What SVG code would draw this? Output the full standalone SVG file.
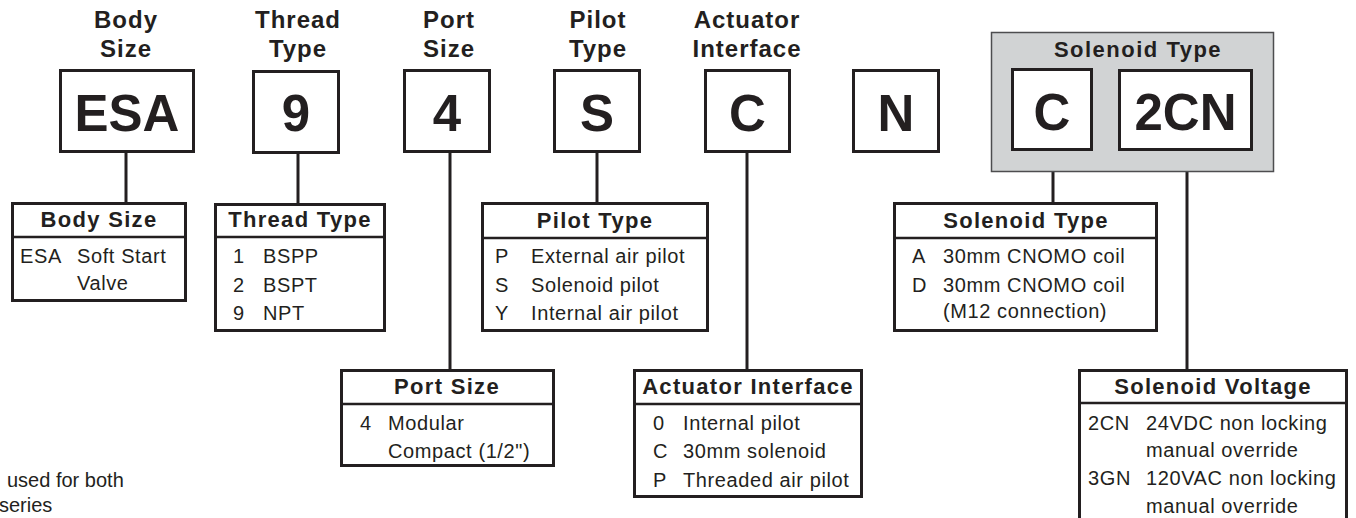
<svg xmlns="http://www.w3.org/2000/svg" width="1356" height="518" viewBox="0 0 1356 518">
<style>
.bg{fill:#ffffff}
.box{fill:#ffffff;stroke:#231f20;stroke-width:3}
.grp{fill:#d1d3d4;stroke:#4d4d4f;stroke-width:1.5}
.div{stroke:#231f20;stroke-width:2.5}
.con{stroke:#231f20;stroke-width:3;fill:none}
text{font-family:"Liberation Sans",Arial,Helvetica,sans-serif;fill:#231f20}
.code{font-size:51px;font-weight:bold;text-anchor:middle}
.ttl{font-size:24px;font-weight:bold;text-anchor:middle;letter-spacing:1px}
.gttl{font-size:22px;font-weight:bold;text-anchor:middle;letter-spacing:1.5px}
.hdr{font-size:22px;font-weight:bold;text-anchor:middle;letter-spacing:1.3px}
.row{font-size:20px;letter-spacing:0.6px}
.note{font-size:20px}
</style>
<rect class="bg" x="0" y="0" width="1356" height="518"/>

<g id="connectors">
<line class="con" x1="126" y1="152" x2="126" y2="203"/>
<line class="con" x1="298" y1="153" x2="298" y2="204"/>
<line class="con" x1="450" y1="151" x2="450" y2="370"/>
<line class="con" x1="597" y1="151" x2="597" y2="203"/>
<line class="con" x1="747" y1="151" x2="747" y2="370"/>
<line class="con" x1="1053" y1="149" x2="1053" y2="203"/>
<line class="con" x1="1187" y1="150" x2="1187" y2="370"/>
</g>

<g id="code-body-size">
<text class="ttl" x="126" y="28">Body</text>
<text class="ttl" x="126" y="57">Size</text>
<rect class="box" x="60.5" y="70.5" width="133" height="81"/>
<text class="code" x="127" y="131">ESA</text>
</g>

<g id="code-thread-type">
<text class="ttl" x="298" y="28">Thread</text>
<text class="ttl" x="298" y="57">Type</text>
<rect class="box" x="253.5" y="71.5" width="85" height="81"/>
<text class="code" x="296" y="131">9</text>
</g>

<g id="code-port-size">
<text class="ttl" x="449" y="28">Port</text>
<text class="ttl" x="449" y="57">Size</text>
<rect class="box" x="404.5" y="70.5" width="85" height="81"/>
<text class="code" x="447" y="131">4</text>
</g>

<g id="code-pilot-type">
<text class="ttl" x="598" y="28">Pilot</text>
<text class="ttl" x="598" y="57">Type</text>
<rect class="box" x="554.5" y="70.5" width="85" height="81"/>
<text class="code" x="597" y="131">S</text>
</g>

<g id="code-actuator-interface">
<text class="ttl" x="747" y="28">Actuator</text>
<text class="ttl" x="747" y="57">Interface</text>
<rect class="box" x="705.5" y="70.5" width="84" height="81"/>
<text class="code" x="747.5" y="131">C</text>
</g>

<g id="code-n">
<rect class="box" x="853.5" y="70.5" width="85" height="81"/>
<text class="code" x="896" y="131">N</text>
</g>

<g id="solenoid-group">
<rect class="grp" x="991.5" y="32.5" width="282" height="139"/>
<text class="gttl" x="1138" y="57">Solenoid Type</text>
</g>

<g id="code-solenoid-type">
<rect class="box" x="1012.5" y="69.5" width="79" height="80"/>
<text class="code" x="1052" y="130">C</text>
</g>

<g id="code-solenoid-voltage">
<rect class="box" x="1119.5" y="70.5" width="132" height="79"/>
<text class="code" x="1185.5" y="130">2CN</text>
</g>

<g id="table-body-size">
<rect class="box" x="12.5" y="203.5" width="173" height="97"/>
<line class="div" x1="12.5" y1="237" x2="185.5" y2="237"/>
<text class="hdr" x="99" y="227">Body Size</text>
<text class="row" x="20" y="263">ESA</text>
<text class="row" x="77" y="263">Soft Start</text>
<text class="row" x="77" y="290">Valve</text>
</g>

<g id="table-thread-type">
<rect class="box" x="215.5" y="204.5" width="169" height="126"/>
<line class="div" x1="215.5" y1="237" x2="384.5" y2="237"/>
<text class="hdr" x="300" y="227">Thread Type</text>
<text class="row" x="233" y="263">1</text>
<text class="row" x="263" y="263">BSPP</text>
<text class="row" x="233" y="292">2</text>
<text class="row" x="263" y="292">BSPT</text>
<text class="row" x="233" y="320">9</text>
<text class="row" x="263" y="320">NPT</text>
</g>

<g id="table-pilot-type">
<rect class="box" x="482.5" y="203.5" width="225" height="127"/>
<line class="div" x1="482.5" y1="238" x2="707.5" y2="238"/>
<text class="hdr" x="595" y="228">Pilot Type</text>
<text class="row" x="495" y="263">P</text>
<text class="row" x="531" y="263">External air pilot</text>
<text class="row" x="495" y="292">S</text>
<text class="row" x="531" y="292">Solenoid pilot</text>
<text class="row" x="495" y="320">Y</text>
<text class="row" x="531" y="320">Internal air pilot</text>
</g>

<g id="table-solenoid-type">
<rect class="box" x="894.5" y="203.5" width="262" height="127"/>
<line class="div" x1="894.5" y1="238" x2="1156.5" y2="238"/>
<text class="hdr" x="1026" y="228">Solenoid Type</text>
<text class="row" x="912" y="263">A</text>
<text class="row" x="943" y="263">30mm CNOMO coil</text>
<text class="row" x="912" y="292">D</text>
<text class="row" x="943" y="292">30mm CNOMO coil</text>
<text class="row" x="943" y="318">(M12 connection)</text>
</g>

<g id="table-port-size">
<rect class="box" x="341.5" y="370.5" width="212" height="95"/>
<line class="div" x1="341.5" y1="404" x2="553.5" y2="404"/>
<text class="hdr" x="447" y="394">Port Size</text>
<text class="row" x="360" y="430">4</text>
<text class="row" x="388" y="430">Modular</text>
<text class="row" x="388" y="458">Compact (1/2")</text>
</g>

<g id="table-actuator-interface">
<rect class="box" x="634.5" y="370.5" width="227" height="126"/>
<line class="div" x1="634.5" y1="404" x2="861.5" y2="404"/>
<text class="hdr" x="748" y="394">Actuator Interface</text>
<text class="row" x="653" y="430">0</text>
<text class="row" x="683" y="430">Internal pilot</text>
<text class="row" x="653" y="458">C</text>
<text class="row" x="683" y="458">30mm solenoid</text>
<text class="row" x="653" y="487">P</text>
<text class="row" x="683" y="487">Threaded air pilot</text>
</g>

<g id="table-solenoid-voltage">
<rect class="box" x="1079.5" y="370.5" width="267" height="160"/>
<line class="div" x1="1079.5" y1="403" x2="1346.5" y2="403"/>
<text class="hdr" x="1213" y="394">Solenoid Voltage</text>
<text class="row" x="1088" y="430">2CN</text>
<text class="row" x="1146" y="430">24VDC non locking</text>
<text class="row" x="1146" y="457">manual override</text>
<text class="row" x="1088" y="485">3GN</text>
<text class="row" x="1146" y="485">120VAC non locking</text>
<text class="row" x="1146" y="513">manual override</text>
</g>

<g id="footnote">
<text class="note" x="7" y="487">used for both</text>
<text class="note" x="-1" y="512">series</text>
</g>
</svg>
